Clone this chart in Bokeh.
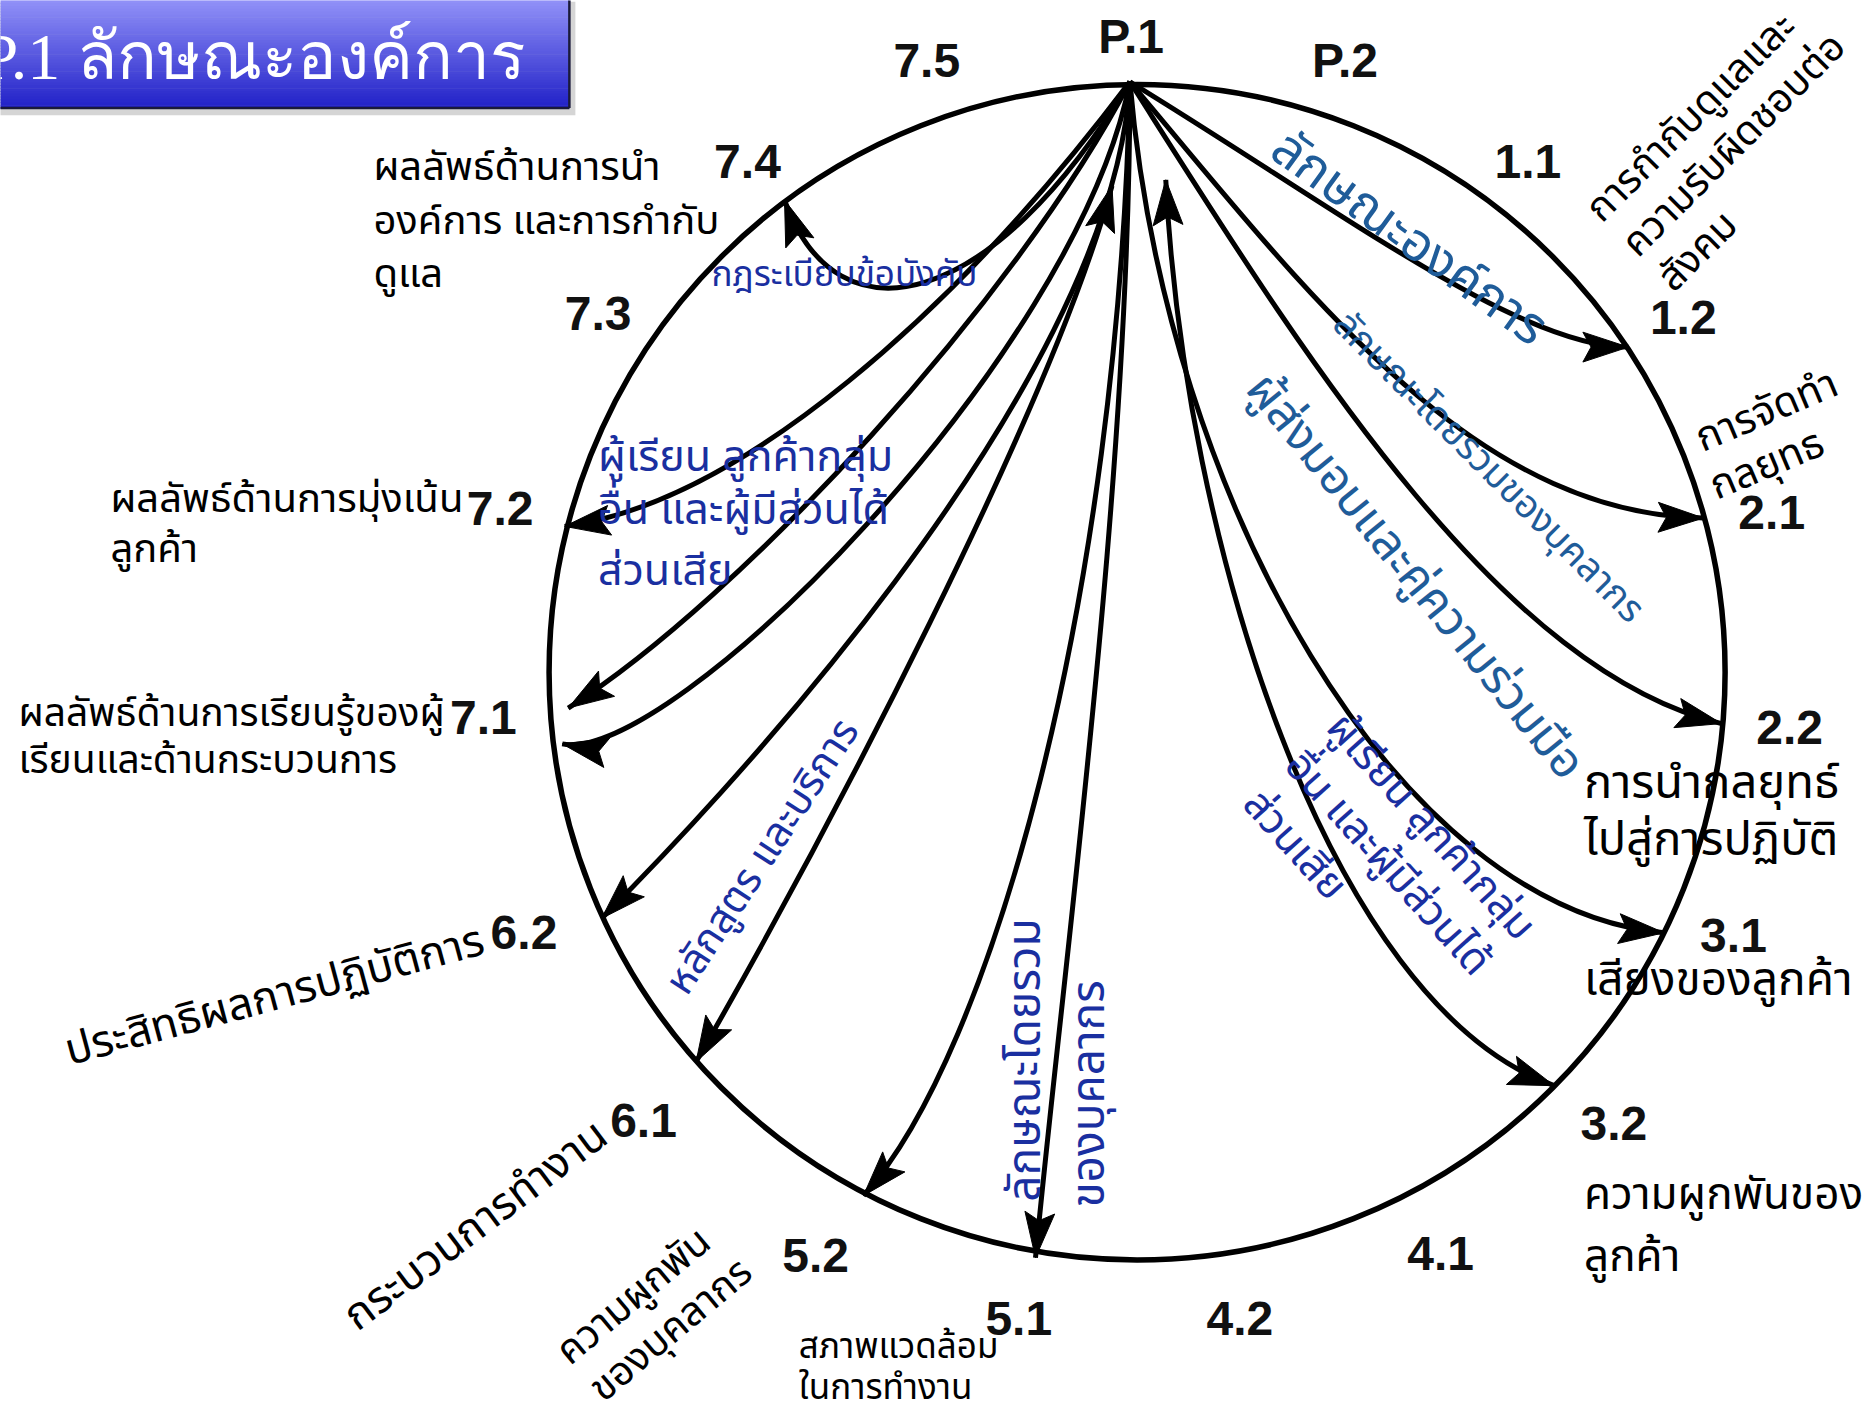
import math
from bokeh.plotting import figure
from bokeh.models import Range1d
from bokeh.core.properties import value
from bokeh.embed import file_html
from bokeh.resources import INLINE

# ---------------- data (reference image units, 1568 x 1186 frame) ----------------
SCALE = 1874 / 1568.0

circle_x = [951]
circle_y = [562]
circle_r = 492

# item labels around the circle
node_labels = ["P.1", "P.2", "7.5", "7.4", "7.3", "7.2", "7.1", "6.2", "6.1", "5.2",
               "5.1", "4.2", "4.1", "3.2", "3.1", "2.2", "2.1", "1.2", "1.1"]
node_x = [946, 1125, 775, 625, 500, 418, 404, 438, 538, 682,
          852, 1037, 1205, 1350, 1450, 1497, 1482, 1408, 1278]
node_y = [30, 50, 50, 135, 262, 425, 600, 780, 937, 1050,
          1103, 1103, 1048, 940, 782, 608, 428, 265, 135]

# linkage curves (cubic Bezier): start, control 1, control 2, end; heads
arrow_to = ["7.4", "7.2", "7.1a", "7.1b", "6.2", "6.1", "5.2", "5.1",
            "1.2", "2.1", "2.2", "3.1", "3.2"]
arrow_x0 = [945, 945, 945, 945, 945, 930, 945, 945, 945, 945, 945, 945, 975]
arrow_y0 = [68, 68, 68, 68, 68, 155, 68, 68, 68, 68, 68, 68, 150]
arrow_cx0 = [830, 800, 850, 900, 930, 880, 935, 945, 1120, 1090, 1080, 975, 990]
arrow_cy0 = [260, 260, 250, 300, 330, 340, 500, 400, 175, 240, 280, 420, 450]
arrow_cx1 = [700, 620, 620, 560, 583, 690, 830, 890, 1270, 1230, 1250, 1170, 1110]
arrow_cy1 = [290, 420, 500, 640, 688, 700, 880, 800, 290, 430, 560, 760, 840]
arrow_x1 = [656, 472, 475, 470, 503, 582, 722, 866, 1362, 1425, 1440, 1392, 1300]
arrow_y1 = [167, 440, 592, 622, 768, 888, 1000, 1052, 290, 433, 605, 780, 908]
arrow_both = [False, False, False, False, False, True, False, False,
              False, False, False, False, True]

# black labels (text, x, y, angle deg, size px)
black_text = ["ผลลัพธ์ด้านการนำ", "องค์การ และการกำกับ", "ดูแล",
              "ผลลัพธ์ด้านการมุ่งเน้น", "ลูกค้า",
              "ผลลัพธ์ด้านการเรียนรู้ของผู้", "เรียนและด้านกระบวนการ",
              "สภาพแวดล้อม", "ในการทำงาน",
              "ความผูกพันของ", "ลูกค้า",
              "เสียงของลูกค้า",
              "การนำกลยุทธ์", "ไปสู่การปฏิบัติ",
              "ประสิทธิผลการปฏิบัติการ",
              "กระบวนการทำงาน",
              "ความผูกพัน", "ของบุคลากร",
              "การจัดทำ", "กลยุทธ",
              "การกำกับดูแลและ", "ความรับผิดชอบต่อ", "สังคม"]
black_x = [312, 312, 312, 92, 92, 15, 15, 668, 668, 1325, 1325, 1325, 1325, 1325,
           55, 292, 470, 498, 1420, 1432, 1333, 1363, 1393]
black_y = [140, 185, 230, 418, 460, 597, 637, 1127, 1161, 1000, 1052, 820, 655, 703,
           880, 1105, 1135, 1166, 368, 408, 180, 209, 238]
black_angle = [0, 0, 0, 0, 0, 0, 0, 0, 0, 0, 0, 0, 0, 0,
               15, 37, 40, 40, 23, 23, 45, 45, 45]
black_size = [40, 40, 40, 40, 40, 39, 39, 35, 35, 44, 44, 46, 47, 47,
              44, 44, 40, 40, 41, 41, 40, 40, 40]

# blue labels on the linkages
blue_text = ["ลักษณะองค์การ", "ลักษณะโดยรวมของบุคลากร", "ผู้ส่งมอบและคู่ความร่วมมือ",
             "ผู้เรียน ลูกค้ากลุ่ม", "อื่น และผู้มีส่วนได้", "ส่วนเสีย",
             "ผู้เรียน ลูกค้ากลุ่ม", "อื่น และผู้มีส่วนได้", "ส่วนเสีย",
             "กฎระเบียบข้อบังคับ", "หลักสูตร และบริการ",
             "ลักษณะโดยรวม", "ของบุคลากร"]
blue_x = [1068, 1120, 1050, 1116, 1081, 1046, 500, 500, 500, 595, 565, 858, 912]
blue_y = [119, 266, 318, 602, 634, 666, 382, 427, 478, 230, 828, 1005, 1010]
blue_angle = [-36, -45, -51, -48, -48, -48, 0, 0, 0, 0, 57, 90, 90]
blue_size = [52, 38, 48, 42, 42, 42, 43, 43, 43, 35, 41, 46, 46]
blue_color = ["#1f5c99", "#1f5c99", "#1f5c99", "#1a2fa0", "#1a2fa0", "#1a2fa0",
              "#1a2fa0", "#1a2fa0", "#1a2fa0", "#1a2fa0", "#1a2fa0", "#1a2fa0", "#1a2fa0"]

title_text = "P.1 ลักษณะองค์การ"

# ---------------- figure ----------------
W, H = 1874, 1418
p = figure(width=W, height=H, output_backend="svg", toolbar_location=None,
           x_range=Range1d(0, W / SCALE),
           y_range=Range1d(H / SCALE, 0),
           min_border=0, outline_line_color=None)
p.axis.visible = False
p.xgrid.visible = False
p.ygrid.visible = False
p.background_fill_color = "white"
p.border_fill_color = "white"

# title banner with vertical gradient
box_l, box_r, box_t, box_b = -20, 476, -5, 90
p.quad(left=[box_l + 4], right=[box_r + 5], top=[box_t + 6], bottom=[box_b + 6],
       fill_color="#888888", fill_alpha=0.35, line_alpha=0)
n = 40
c_top = (150, 150, 250)
c_bot = (34, 34, 200)
qt, qb, qc = [], [], []
for i in range(n):
    f = i / (n - 1)
    col = tuple(int(round(c_top[k] + (c_bot[k] - c_top[k]) * f)) for k in range(3))
    qt.append(box_t + (box_b - box_t) * i / n)
    qb.append(box_t + (box_b - box_t) * (i + 1) / n + 0.5)
    qc.append("#%02x%02x%02x" % col)
p.quad(left=[box_l] * n, right=[box_r] * n, top=qt, bottom=qb, fill_color=qc, line_alpha=0)
p.line([box_r, box_r], [box_t, box_b], line_color="#1a1a3a", line_width=2.5)
p.line([box_l, box_r], [box_b, box_b], line_color="#1a1a3a", line_width=2.5)
p.text(x=[-16], y=[47], text=[title_text], text_color="white",
       text_font=value("Liberation Serif"), text_font_size="66px",
       text_align="left", text_baseline="middle")

# circle
p.circle(x=circle_x, y=circle_y, radius=circle_r, fill_color=None,
         line_color="black", line_width=5.5)

# linkage curves
p.bezier(x0=arrow_x0, y0=arrow_y0, x1=arrow_x1, y1=arrow_y1,
         cx0=arrow_cx0, cy0=arrow_cy0, cx1=arrow_cx1, cy1=arrow_cy1,
         line_color="black", line_width=5)


def head(tx, ty, fx, fy, L=38.0, Wd=12.5):
    dx, dy = tx - fx, ty - fy
    d = math.hypot(dx, dy)
    ux, uy = dx / d, dy / d
    px, py = -uy, ux
    bx, by = tx - L * ux, ty - L * uy
    nx, ny = tx - 0.82 * L * ux, ty - 0.82 * L * uy
    return ([tx, bx + Wd * px, nx, bx - Wd * px], [ty, by + Wd * py, ny, by - Wd * py])


hx, hy = [], []
for i in range(len(arrow_to)):
    xs, ys = head(arrow_x1[i], arrow_y1[i], arrow_cx1[i], arrow_cy1[i])
    hx.append(xs)
    hy.append(ys)
    if arrow_both[i]:
        xs, ys = head(arrow_x0[i], arrow_y0[i], arrow_cx0[i], arrow_cy0[i])
        hx.append(xs)
        hy.append(ys)
p.patches(xs=hx, ys=hy, fill_color="black", line_color="black", line_width=1)

# texts
p.text(x=node_x, y=node_y, text=node_labels, text_color="#111111",
       text_font=value("Liberation Sans"), text_font_style="bold",
       text_font_size="48px", text_align="center", text_baseline="middle")

for i in range(len(black_text)):
    p.text(x=[black_x[i]], y=[black_y[i]], text=[black_text[i]], angle=black_angle[i],
           angle_units="deg", text_color="black",
           text_font=value("Noto Sans Thai"), text_font_size=f"{black_size[i]}px",
           text_align="left", text_baseline="middle")

for i in range(len(blue_text)):
    p.text(x=[blue_x[i]], y=[blue_y[i]], text=[blue_text[i]], angle=blue_angle[i],
           angle_units="deg", text_color=blue_color[i],
           text_font=value("Noto Sans Thai"), text_font_size=f"{blue_size[i]}px",
           text_align="left", text_baseline="middle")

open("out.html", "w").write(file_html(p, INLINE))
